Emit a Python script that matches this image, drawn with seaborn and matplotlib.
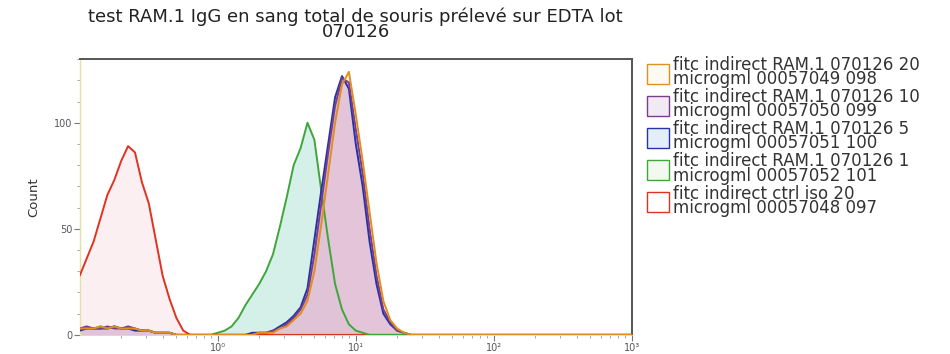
import numpy as np
import pandas as pd
import matplotlib
matplotlib.use("Agg")
import matplotlib.pyplot as plt
import seaborn as sns
from matplotlib.ticker import LogLocator, FixedLocator, NullFormatter, FixedFormatter

# ---- data ----
log_intensity = [-1.0, -0.95, -0.9, -0.85, -0.8, -0.75, -0.7, -0.65, -0.6, -0.55,
                 -0.5, -0.45, -0.4, -0.35, -0.3, -0.25, -0.2, -0.15, -0.1, -0.05,
                 0.0, 0.05, 0.1, 0.15, 0.2, 0.25, 0.3, 0.35, 0.4, 0.45,
                 0.5, 0.55, 0.6, 0.65, 0.7, 0.75, 0.8, 0.85, 0.9, 0.95,
                 1.0, 1.05, 1.1, 1.15, 1.2, 1.25, 1.3, 1.35, 1.4, 1.45,
                 1.5, 3.0]

counts_20 = [3, 3, 3, 4, 3, 4, 3, 3, 3, 2, 2, 1, 1, 1, 0, 0, 0, 0, 0, 0,
             0, 0, 0, 0, 0, 0, 1, 1, 1, 3, 4, 7, 10, 16, 30, 52, 76, 100, 118, 124,
             104, 82, 58, 34, 16, 7, 3, 1, 0, 0, 0, 0]
counts_10 = [3, 4, 3, 3, 4, 3, 3, 4, 3, 2, 2, 1, 1, 1, 0, 0, 0, 0, 0, 0,
             0, 0, 0, 0, 0, 0, 1, 1, 2, 3, 5, 8, 12, 19, 38, 62, 86, 108, 121, 119,
             97, 76, 50, 28, 12, 6, 2, 1, 0, 0, 0, 0]
counts_5 = [2, 3, 3, 3, 3, 4, 3, 3, 2, 2, 2, 1, 1, 1, 0, 0, 0, 0, 0, 0,
            0, 0, 0, 0, 0, 1, 1, 1, 2, 4, 6, 9, 13, 22, 45, 68, 90, 112, 122, 116,
            90, 70, 44, 24, 10, 5, 2, 1, 0, 0, 0, 0]
counts_1 = [3, 3, 3, 4, 3, 4, 3, 3, 3, 2, 2, 1, 1, 1, 0, 0, 0, 0, 0, 0,
            1, 2, 4, 8, 14, 19, 24, 30, 38, 51, 65, 80, 88, 100, 92, 68, 45, 24, 12, 5,
            2, 1, 0, 0, 0, 0, 0, 0, 0, 0, 0, 0]
counts_ctrl = [28, 36, 44, 55, 66, 73, 82, 89, 86, 72, 62, 45, 28, 17, 8, 2, 0, 0, 0, 0,
               0, 0, 0, 0, 0, 0, 0, 0, 0, 0, 0, 0, 0, 0, 0, 0, 0, 0, 0, 0,
               0, 0, 0, 0, 0, 0, 0, 0, 0, 0, 0, 0]

labels = ["fitc indirect RAM.1 070126 20\nmicrogml 00057049 098",
          "fitc indirect RAM.1 070126 10\nmicrogml 00057050 099",
          "fitc indirect RAM.1 070126 5\nmicrogml 00057051 100",
          "fitc indirect RAM.1 070126 1\nmicrogml 00057052 101",
          "fitc indirect ctrl iso 20\nmicrogml 00057048 097"]
series_counts = [counts_20, counts_10, counts_5, counts_1, counts_ctrl]

x_tick_values = [1, 10, 100, 1000]
x_tick_labels = ["10⁰", "10¹", "10²", "10³"]
y_tick_values = [0, 50, 100]

title = "test RAM.1 IgG en sang total de souris prélevé sur EDTA lot\n070126"

# ---- styling ----
line_colors = ["#e0901e", "#7a3d8c", "#2434a6", "#3fa63a", "#e0321e"]
fill_colors = ["#f3e4cc", "#dba6d8", "#c4c8ee", "#cdeee4", "#fbeef1"]
fill_alpha = [0.35, 0.75, 0.6, 0.85, 0.9]
legend_fill = ["#fdfaf2", "#f1eaf3", "#e4eef8", "#f2f9ee", "#ffffff"]

rows = []
for lab, cnt in zip(labels, series_counts):
    for lx, c in zip(log_intensity, cnt):
        rows.append({"FITC": 10 ** lx, "Count": c, "sample": lab})
df = pd.DataFrame(rows)

sns.set_style("white")
plt.rcParams["font.family"] = ["DejaVu Sans"]

fig = plt.figure(figsize=(9.5, 3.54), dpi=100)
ax = fig.add_axes([0.084, 0.054, 0.581, 0.779])

# fills (draw order: ctrl, 1, 5, 10, 20)
draw_order = [4, 3, 2, 1, 0]
for i in draw_order:
    sub = df[df["sample"] == labels[i]]
    ax.fill_between(sub["FITC"], 0, sub["Count"], color=fill_colors[i],
                    alpha=fill_alpha[i], linewidth=0, zorder=1 + (4 - i) * 0.1)

order_labels = [labels[i] for i in draw_order]
order_colors = [line_colors[i] for i in draw_order]
sns.lineplot(data=df, x="FITC", y="Count", hue="sample", hue_order=order_labels,
             palette=order_colors, linewidth=1.4, ax=ax, legend=False, zorder=3)

ax.set_xscale("log")
ax.set_xlim(0.1, 1000)
ax.set_ylim(0, 130)

ax.xaxis.set_major_locator(FixedLocator(x_tick_values))
ax.xaxis.set_major_formatter(FixedFormatter(x_tick_labels))
ax.xaxis.set_minor_locator(LogLocator(base=10, subs=np.arange(2, 10)))
ax.xaxis.set_minor_formatter(NullFormatter())
ax.yaxis.set_major_locator(FixedLocator(y_tick_values))
ax.yaxis.set_minor_locator(FixedLocator(np.arange(0, 131, 10)))

ax.tick_params(axis="both", which="major", direction="out", length=4, width=0.8,
               colors="#777777", labelsize=7, labelcolor="#555555", pad=1.5)
ax.tick_params(axis="both", which="minor", direction="out", length=2, width=0.6,
               colors="#999999")
ax.tick_params(axis="x", which="both", bottom=True)
ax.tick_params(axis="y", which="both", left=True)

for s in ["top", "right"]:
    ax.spines[s].set_color("#555555")
    ax.spines[s].set_linewidth(1.4)
ax.spines["left"].set_color("#e8dfa8")
ax.spines["left"].set_linewidth(1.0)
ax.spines["bottom"].set_color("#d8d8d8")
ax.spines["bottom"].set_linewidth(0.6)

ax.set_xlabel("")
ax.set_ylabel("Count", fontsize=9.5, color="#333333", labelpad=10)
ax.set_title(title, fontsize=13, color="#222222", pad=16, linespacing=0.8)

handles = [plt.Rectangle((0, 0), 1, 1, facecolor=legend_fill[i],
                         edgecolor=line_colors[i], linewidth=1.0)
           for i in range(5)]
leg = fig.legend(handles, labels, loc="upper left", bbox_to_anchor=(0.674, 0.86),
                 frameon=False, fontsize=12, handlelength=1.3, handleheight=1.5,
                 handletextpad=0.25, labelspacing=0.0, borderaxespad=0)
for t in leg.get_texts():
    t.set_color("#333333")
    t.set_linespacing(0.72)

fig.savefig("out.png", dpi=100)
